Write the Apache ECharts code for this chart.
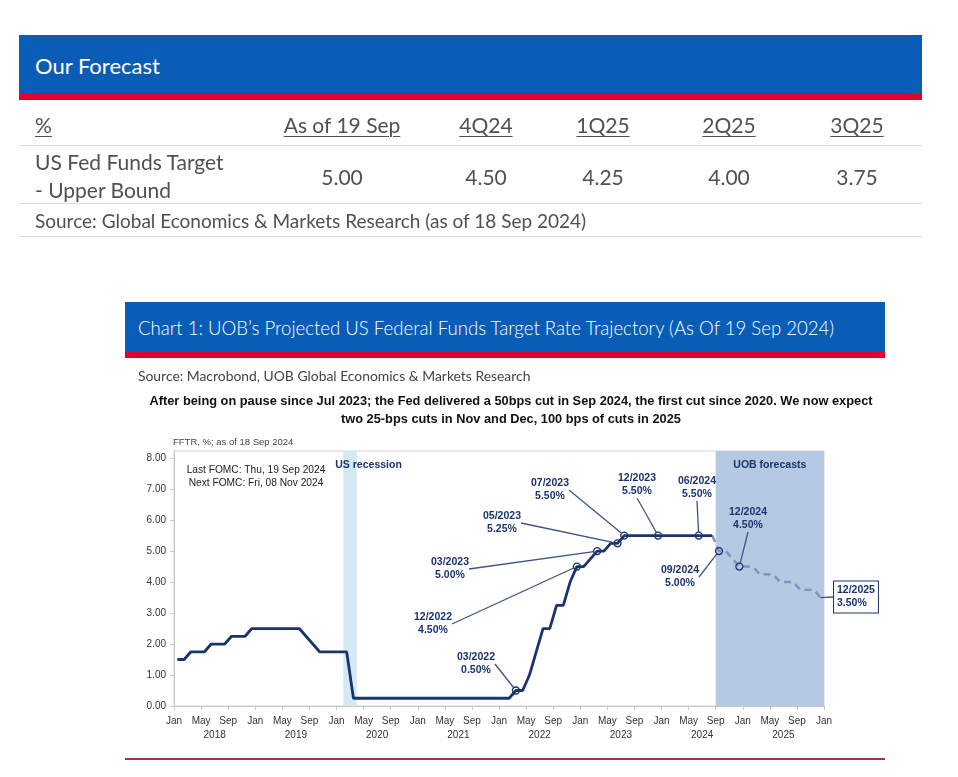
<!DOCTYPE html>
<html>
<head>
<meta charset="utf-8">
<script src="https://cdn.jsdelivr.net/npm/echarts/dist/echarts.min.js"></script>
<style>
html,body{margin:0;padding:0;background:#fff;width:958px;height:777px;overflow:hidden;}
#chart{position:absolute;left:0;top:0;width:958px;height:777px;}
.abs{position:absolute;white-space:nowrap;}
.lato{font-family:Lato,'Open Sans','DejaVu Sans',sans-serif;}
.tb{font-size:21px;color:#505050;line-height:26px;}
.ctr{transform:translateX(-50%);}
.u{text-decoration:underline;text-underline-offset:3px;text-decoration-thickness:1px;}
.hl{position:absolute;height:1px;background:#dcdcdc;}
</style>
</head>
<body>
<div id="chart"></div>

<!-- Forecast table -->
<div class="abs" style="left:19px;top:35px;width:903px;height:58px;background:#0a5db7;"></div>
<div class="abs" style="left:19px;top:93px;width:903px;height:7px;background:#e4002b;"></div>
<div class="abs lato" style="left:35px;top:52px;font-size:22px;line-height:28px;color:#fff;">Our Forecast</div>

<div class="abs lato tb u" style="left:35px;top:112px;">%</div>
<div class="abs lato tb u ctr" style="left:342px;top:112px;">As of 19 Sep</div>
<div class="abs lato tb u ctr" style="left:486px;top:112px;">4Q24</div>
<div class="abs lato tb u ctr" style="left:603px;top:112px;">1Q25</div>
<div class="abs lato tb u ctr" style="left:729px;top:112px;">2Q25</div>
<div class="abs lato tb u ctr" style="left:857px;top:112px;">3Q25</div>
<div class="hl" style="left:19px;top:145px;width:903px;"></div>

<div class="abs lato tb" style="left:35px;top:149px;">US Fed Funds Target</div>
<div class="abs lato tb" style="left:35px;top:177px;">- Upper Bound</div>
<div class="abs lato tb ctr" style="left:342px;top:164px;">5.00</div>
<div class="abs lato tb ctr" style="left:486px;top:164px;">4.50</div>
<div class="abs lato tb ctr" style="left:603px;top:164px;">4.25</div>
<div class="abs lato tb ctr" style="left:729px;top:164px;">4.00</div>
<div class="abs lato tb ctr" style="left:857px;top:164px;">3.75</div>
<div class="hl" style="left:19px;top:203px;width:903px;"></div>
<div class="abs lato" style="left:35px;top:209px;font-size:19px;line-height:24px;color:#505050;">Source: Global Economics &amp; Markets Research (as of 18 Sep 2024)</div>
<div class="hl" style="left:19px;top:236px;width:903px;"></div>

<!-- Chart heading -->
<div class="abs" style="left:125px;top:302px;width:760px;height:50px;background:#0a5db7;"></div>
<div class="abs" style="left:125px;top:352px;width:760px;height:6px;background:#e4002b;"></div>
<div class="abs lato" style="left:138px;top:316px;font-size:18.6px;line-height:24px;font-weight:300;color:#fff;">Chart 1: UOB’s Projected US Federal Funds Target Rate Trajectory (As Of 19 Sep 2024)</div>
<div class="abs lato" style="left:138px;top:367px;font-size:13.9px;line-height:18px;color:#444;">Source: Macrobond, UOB Global Economics &amp; Markets Research</div>
<div class="abs" style="left:511px;top:392px;transform:translateX(-50%);text-align:center;font-family:'Liberation Sans',Arial,sans-serif;font-weight:bold;font-size:12.8px;line-height:18px;color:#111;">After being on pause since Jul 2023; the Fed delivered a 50bps cut in Sep 2024, the first cut since 2020. We now expect<br>two 25-bps cuts in Nov and Dec, 100 bps of cuts in 2025</div>
<div class="abs" style="left:125px;top:758px;width:760px;height:2px;background:#a8334a;"></div>

<script>
// ---------- data ----------
const xTickMonths = ['Jan', 'May', 'Sep'];
const yearLabels = ['2018', '2019', '2020', '2021', '2022', '2023', '2024', '2025'];

const actualStart = '2018-01';
const actualRate = [
  1.50, 1.50, 1.75, 1.75, 1.75, 2.00, 2.00, 2.00, 2.25, 2.25, 2.25, 2.50, // 2018
  2.50, 2.50, 2.50, 2.50, 2.50, 2.50, 2.50, 2.25, 2.00, 1.75, 1.75, 1.75, // 2019
  1.75, 1.75, 0.25, 0.25, 0.25, 0.25, 0.25, 0.25, 0.25, 0.25, 0.25, 0.25, // 2020
  0.25, 0.25, 0.25, 0.25, 0.25, 0.25, 0.25, 0.25, 0.25, 0.25, 0.25, 0.25, // 2021
  0.25, 0.25, 0.50, 0.50, 1.00, 1.75, 2.50, 2.50, 3.25, 3.25, 4.00, 4.50, // 2022
  4.50, 4.75, 5.00, 5.00, 5.25, 5.25, 5.50, 5.50, 5.50, 5.50, 5.50, 5.50, // 2023
  5.50, 5.50, 5.50, 5.50, 5.50, 5.50, 5.50, 5.50                          // 2024 Jan-Aug
];

const forecastStart = '2024-08';
const forecastRate = [
  5.50, 5.00, 5.00, 4.75, 4.50,                                            // Aug-Dec 2024
  4.50, 4.50, 4.25, 4.25, 4.25, 4.00, 4.00, 4.00, 3.75, 3.75, 3.75, 3.50   // 2025
];

const recessionSpan = ['2020-02', '2020-04'];
const forecastSpan = ['2024-09', '2026-01'];

const annotDates  = ['2022-03', '2022-12', '2023-03', '2023-06', '2023-07', '2023-12', '2024-06', '2024-09', '2024-12', '2025-12'];
const annotValues = [0.50, 4.50, 5.00, 5.25, 5.50, 5.50, 5.50, 5.00, 4.50, 3.50];
const annotNames  = ['03/2022', '12/2022', '03/2023', '05/2023', '07/2023', '12/2023', '06/2024', '09/2024', '12/2024', '12/2025'];

// ---------- layout (label positions, px) ----------
const annotLabelXY = [[476, 664], [433, 624], [450, 569], [502, 523], [550, 490], [637, 485], [697, 488], [680, 577], [748, 519], [834, 597]];

// ---------- helpers ----------
function monthIndex(s) { const p = s.split('-').map(Number); return (p[0] - 2018) * 12 + (p[1] - 1); }
function series(start, vals) { const s = monthIndex(start); return vals.map((v, i) => [s + i + 0.5, v]); }

const NAVY = '#1b336e';
const FONT = "'Liberation Sans', Arial, sans-serif";
const chart = echarts.init(document.getElementById('chart'), null, { renderer: 'canvas' });

const annotData = annotDates.map((d, i) => {
  const item = { name: annotNames[i], value: [monthIndex(d) + 0.5, annotValues[i]] };
  if (i === annotDates.length - 1) {
    item.symbolSize = 0;
    item.label = { backgroundColor: '#fff', borderColor: NAVY, borderWidth: 1, padding: [3, 3, 2, 3], align: 'left' };
  }
  return item;
});

const option = {
  animation: false,
  backgroundColor: 'transparent',
  textStyle: { fontFamily: FONT },
  grid: { left: 174, right: 134, top: 451, bottom: 71, show: true, borderColor: '#d4d4d4', borderWidth: 1, backgroundColor: 'transparent', containLabel: false },
  xAxis: [
    {
      type: 'value', min: 0, max: 96, interval: 4,
      axisLine: { show: true, onZero: false, lineStyle: { color: '#c8c8c8', width: 1 } },
      axisTick: { show: true, length: 4, lineStyle: { color: '#c8c8c8' } },
      splitLine: { show: false },
      axisLabel: {
        color: '#333', fontSize: 10, margin: 10, showMinLabel: true, showMaxLabel: true,
        formatter: v => xTickMonths[Math.round(v / 4) % 3]
      }
    },
    {
      type: 'category', data: yearLabels, position: 'bottom', boundaryGap: true,
      axisLine: { show: false }, axisTick: { show: false }, splitLine: { show: false },
      axisLabel: { color: '#333', fontSize: 10, margin: 24, interval: 0 }
    }
  ],
  yAxis: {
    type: 'value', min: 0, max: 8.23, interval: 1,
    name: 'FFTR, %; as of 18 Sep 2024', nameLocation: 'end', nameGap: 4,
    nameTextStyle: { align: 'left', color: '#444', fontSize: 9.5, padding: [0, 0, 0, -1] },
    axisLine: { show: true, lineStyle: { color: '#c8c8c8', width: 1 } },
    axisTick: { show: true, length: 4, lineStyle: { color: '#c8c8c8' } },
    splitLine: { show: false },
    axisLabel: { color: '#333', fontSize: 10, margin: 8, showMaxLabel: false, formatter: v => v.toFixed(2) }
  },
  graphic: [
    { type: 'text', z: 10, style: { text: 'Last FOMC: Thu, 19 Sep 2024', x: 256, y: 470, align: 'center', verticalAlign: 'middle', fill: '#222', font: "10.2px " + FONT } },
    { type: 'text', z: 10, style: { text: 'Next FOMC: Fri, 08 Nov 2024', x: 256, y: 483, align: 'center', verticalAlign: 'middle', fill: '#222', font: "10.2px " + FONT } }
  ],
  series: [
    {
      type: 'line', name: 'bands', data: [], z: 1, silent: true,
      markArea: {
        silent: true,
        data: [
          [{ xAxis: monthIndex(recessionSpan[0]), itemStyle: { color: '#d3eaf5' },
             label: { show: true, position: [-8, 9], formatter: 'US recession', color: NAVY, fontWeight: 'bold', fontSize: 10.5 } },
           { xAxis: monthIndex(recessionSpan[1]) }],
          [{ xAxis: monthIndex(forecastSpan[0]), itemStyle: { color: '#b6c9e3' },
             label: { show: true, position: 'insideTop', distance: 9, formatter: 'UOB forecasts', color: NAVY, fontWeight: 'bold', fontSize: 10.5 } },
           { xAxis: monthIndex(forecastSpan[1]) }]
        ]
      }
    },
    {
      type: 'line', name: 'Forecast', data: series(forecastStart, forecastRate), z: 3,
      showSymbol: false, symbol: 'none',
      lineStyle: { color: '#8093b8', width: 2.5, type: [7, 5] }
    },
    {
      type: 'line', name: 'FFTR', data: series(actualStart, actualRate), z: 4,
      showSymbol: false, symbol: 'none',
      lineStyle: { color: NAVY, width: 2.8 }
    },
    {
      type: 'scatter', name: 'annotations', data: annotData, z: 5,
      symbol: 'circle', symbolSize: 7,
      itemStyle: { color: 'rgba(255,255,255,0)', borderColor: NAVY, borderWidth: 1.3, opacity: 1 },
      label: {
        show: true, color: NAVY, fontWeight: 'bold', fontSize: 10.5, lineHeight: 13, fontFamily: FONT,
        formatter: p => p.name + '\n' + p.value[1].toFixed(2) + '%'
      },
      labelLine: { show: true, lineStyle: { color: '#3e5386', width: 1.3, opacity: 1 } },
      labelLayout: p => {
        const xy = annotLabelXY[p.dataIndex];
        const last = p.dataIndex === annotLabelXY.length - 1;
        return { x: xy[0], y: xy[1], align: last ? 'left' : 'center', verticalAlign: 'middle' };
      }
    }
  ]
};
chart.setOption(option);
</script>
</body>
</html>
